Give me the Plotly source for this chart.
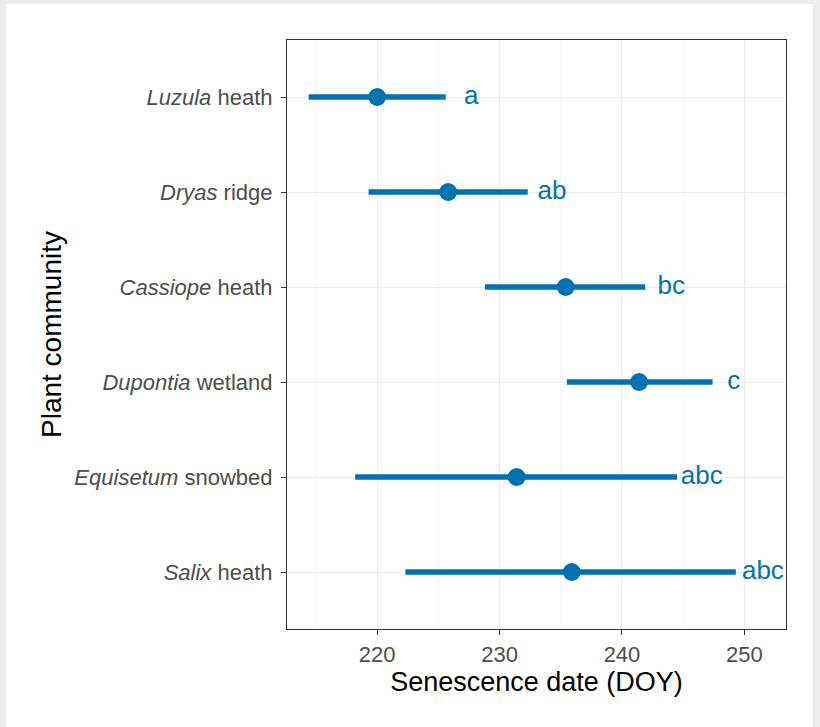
import plotly.graph_objects as go

communities = ["<i>Luzula</i> heath", "<i>Dryas</i> ridge", "<i>Cassiope</i> heath",
               "<i>Dupontia</i> wetland", "<i>Equisetum</i> snowbed", "<i>Salix</i> heath"]
mean_doy = [220.0, 225.8, 235.4, 241.4, 231.4, 235.9]
lower_doy = [214.4, 219.3, 228.8, 235.5, 218.2, 222.3]
upper_doy = [225.6, 232.3, 241.9, 247.4, 244.5, 249.3]
letters = ["a", "ab", "bc", "c", "abc", "abc"]
letter_x = [227.1, 233.1, 242.9, 248.6, 244.8, 249.8]
x_ticks = [220, 230, 240, 250]

BLUE = "#0072B2"
FONT = "Liberation Sans, Arial, sans-serif"

fig = go.Figure()

fig.add_trace(go.Scatter(
    x=mean_doy, y=communities, mode="markers",
    marker=dict(size=18, color=BLUE),
    error_x=dict(type="data", symmetric=False,
                 array=[u - m for u, m in zip(upper_doy, mean_doy)],
                 arrayminus=[m - l for m, l in zip(mean_doy, lower_doy)],
                 color=BLUE, thickness=5.5, width=0),
    showlegend=False, hoverinfo="skip",
))

fig.add_trace(go.Scatter(
    x=letter_x, y=communities, mode="text", text=letters,
    textposition="middle right",
    textfont=dict(size=26, color=BLUE, family=FONT),
    showlegend=False, hoverinfo="skip", cliponaxis=False,
))

# white card behind the chart
fig.add_shape(type="rect", xref="paper", yref="paper",
              x0=-0.5626, x1=1.053, y0=-0.3, y1=1.061,
              fillcolor="white", line=dict(width=0), layer="below")

fig.update_layout(
    width=820, height=727,
    margin=dict(l=287, r=33.5, t=40, b=98),
    paper_bgcolor="#ececec", plot_bgcolor="white",
    font=dict(family=FONT, color="#4d4d4d"),
)

fig.update_xaxes(
    range=[212.63, 253.4], tickvals=x_ticks, ticktext=[str(v) for v in x_ticks],
    ticks="outside", ticklen=5, tickwidth=1.2, tickcolor="#333333",
    tickfont=dict(size=22, color="#4d4d4d", family=FONT),
    showgrid=True, gridcolor="#ebebeb", gridwidth=1,
    minor=dict(tickvals=[215, 225, 235, 245], showgrid=True, gridcolor="#f5f5f5", gridwidth=0.8, ticks=""),
    showline=True, linecolor="#333333", linewidth=1.2, mirror=True,
    zeroline=False,
    title=dict(text="Senescence date (DOY)", font=dict(size=27, color="black", family=FONT), standoff=6),
)

fig.update_yaxes(
    type="category", categoryorder="array", categoryarray=communities,
    range=[5.6, -0.6],
    ticks="outside", ticklen=5, tickwidth=1.2, tickcolor="#333333",
    tickfont=dict(size=22, color="#4d4d4d", family=FONT),
    ticklabelstandoff=4,
    showgrid=True, gridcolor="#ebebeb", gridwidth=1,
    showline=True, linecolor="#333333", linewidth=1.2, mirror=True,
    zeroline=False,
    title=dict(text="Plant community", font=dict(size=28, color="black", family=FONT), standoff=4),
)

fig.write_html("out.html", config={"displayModeBar": False},
               post_script="document.body.style.margin='0px';")
